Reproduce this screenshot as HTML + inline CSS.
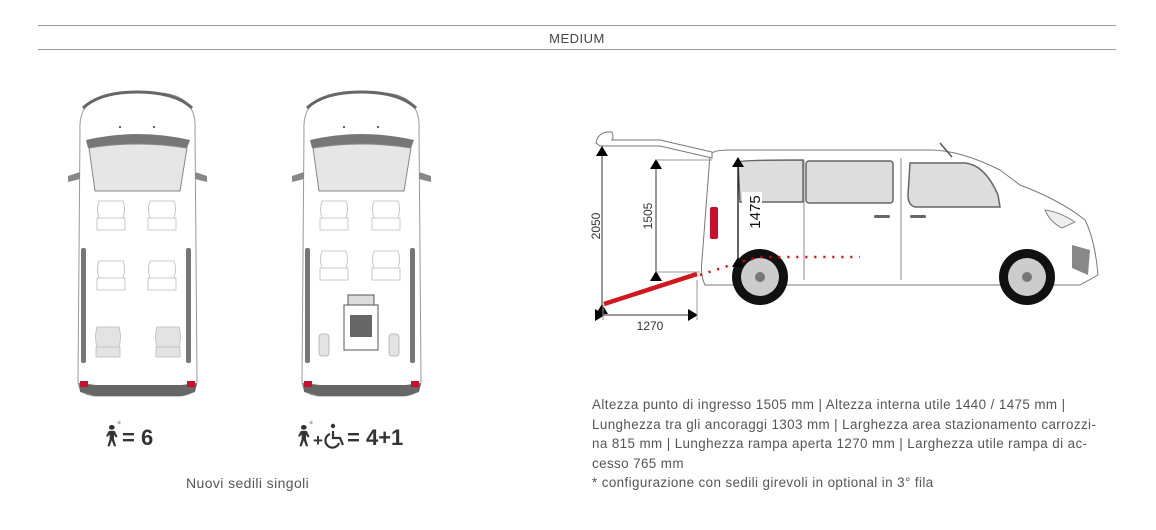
<!DOCTYPE html>
<html><head><meta charset="utf-8"><style>
html,body{margin:0;padding:0;background:#fff;}
body{width:1156px;height:530px;overflow:hidden;position:relative;font-family:"Liberation Sans",sans-serif;}
.t{position:absolute;color:#555;font-size:13.4px;line-height:19.5px;letter-spacing:0.4px;}
</style></head><body>
<svg width="1156" height="530" style="position:absolute;left:0;top:0" xmlns="http://www.w3.org/2000/svg">
<defs>
<marker id="ah" markerWidth="10" markerHeight="12" refX="9" refY="6" orient="auto" markerUnits="userSpaceOnUse"><path d="M0,0 L10,6 L0,12 z" fill="#000"/></marker>
<g id="van">
  <path d="M80,130 Q78,95 120,93 L160,93 Q197,95 195,130 L197,380 Q197,395 180,396 L95,396 Q78,395 78,380 Z" fill="#fff" stroke="#999" stroke-width="1"/>
  <path d="M83,108 Q100,92 137,92 Q175,92 192,108" fill="none" stroke="#666" stroke-width="3"/>
  <path d="M86,140 Q137,128 190,140 L187,148 Q137,140 88,148 Z" fill="#777"/>
  <path d="M89,148 Q137,140 187,148 L180,191 L95,191 Z" fill="#e6e6e6" stroke="#888"/>
  <path d="M80,172 L68,176 L68,182 L80,179 Z" fill="#888"/>
  <path d="M195,172 L207,176 L207,182 L195,179 Z" fill="#888"/>
  <rect x="81" y="248" width="5" height="115" rx="2" fill="#777"/>
  <rect x="186" y="248" width="5" height="115" rx="2" fill="#777"/>
  <path d="M79,383 L96,385 L182,385 L197,383 L195,392 L182,396 L95,396 L80,392 Z" fill="#666"/>
  <rect x="80" y="381" width="8" height="6" fill="#c8102e"/>
  <rect x="187" y="381" width="8" height="6" fill="#c8102e"/>
  <circle cx="120" cy="127" r="1" fill="#333"/><circle cx="154" cy="127" r="1" fill="#333"/>
</g>
<g id="seat"><path d="M0,0 h24 q3,8 0,17 h-24 q-3,-8 0,-17z M-2,17 h28 v12 h-28z" fill="#fff" stroke="#bbb" stroke-width="0.8"/></g>
<g id="seatg"><path d="M0,0 h22 q3,10 0,20 h-22 q-3,-10 0,-20z M-1,20 h24 v10 h-24z" fill="#e3e3e3" stroke="#bbb" stroke-width="0.8"/></g>
<g id="man" fill="#333">
  <circle cx="4" cy="2" r="2"/>
  <path d="M2,5 L6,5 L8,10 L6.5,10.5 L5.5,8 L5.5,12 L7,18 L5.5,18 L4,13 L2.5,18 L1,18 L2.5,12 L2.5,8 L1,10 L0,9.5 Z"/>
</g>
</defs>
<line x1="38" y1="25.5" x2="1116" y2="25.5" stroke="#999"/>
<line x1="38" y1="49.5" x2="1116" y2="49.5" stroke="#999"/>
<text x="577" y="43" text-anchor="middle" font-family="Liberation Sans" font-size="13" fill="#444" letter-spacing="0.5">MEDIUM</text>

<use href="#van"/>
<use href="#seat" x="99" y="201"/><use href="#seat" x="150" y="201"/>
<use href="#seat" x="99" y="261"/><use href="#seat" x="150" y="261"/>
<use href="#seatg" x="97" y="327"/><use href="#seatg" x="157" y="327"/>

<use href="#van" x="224"/>
<use href="#seat" x="322" y="201"/><use href="#seat" x="374" y="201"/>
<use href="#seat" x="322" y="251"/><use href="#seat" x="374" y="251"/>
<rect x="319" y="334" width="10" height="22" rx="3" fill="#e3e3e3" stroke="#bbb"/>
<rect x="389" y="334" width="10" height="22" rx="3" fill="#e3e3e3" stroke="#bbb"/>
<rect x="348" y="295" width="26" height="10" fill="#ddd" stroke="#555"/>
<rect x="344" y="305" width="34" height="45" fill="#fff" stroke="#555"/>
<rect x="350" y="315" width="22" height="22" fill="#666"/>

<!-- icons -->
<g transform="translate(106,425) scale(1.45,1.18)"><use href="#man"/></g>
<text x="117" y="428" font-size="11" fill="#999" font-family="Liberation Sans">*</text>
<text x="122" y="445" font-size="22" font-weight="bold" fill="#333" font-family="Liberation Sans">= 6</text>
<g transform="translate(298,425) scale(1.45,1.18)"><use href="#man"/></g>
<text x="309" y="428" font-size="11" fill="#999" font-family="Liberation Sans">*</text>
<text x="313" y="446" font-size="17" font-weight="bold" fill="#333" font-family="Liberation Sans">+</text>
<g fill="none" stroke="#333" stroke-width="2.2">
  <circle cx="333" cy="426" r="2.2" fill="#333" stroke="none"/>
  <path d="M333,431 L333,438 L340,438 L343,445"/>
  <path d="M330,434 A7,7 0 1 0 339,443"/>
</g>
<text x="347" y="445" font-size="22" font-weight="bold" fill="#333" font-family="Liberation Sans">= 4+1</text>

<!-- side van -->
<path d="M710,155 Q712,150 730,150 L930,150 Q960,150 1000,170 L1020,185 Q1060,200 1085,220 Q1095,240 1098,275 L1080,285 L705,285 Q700,275 702,260 Z" fill="#fff" stroke="#777" stroke-width="1"/>
<line x1="940" y1="143" x2="952" y2="157" stroke="#555" stroke-width="1.5"/>
<path d="M738,162 Q740,160 803,160 L803,202 L740,202 Z" fill="#ddd" stroke="#666" stroke-width="1.5"/>
<rect x="806" y="161" width="87" height="42" rx="3" fill="#ddd" stroke="#666" stroke-width="1.5"/>
<path d="M910,163 L965,163 Q985,165 998,195 L1000,207 L915,207 Q908,205 908,195 Z" fill="#ddd" stroke="#666" stroke-width="1.5"/>
<line x1="804" y1="160" x2="804" y2="280" stroke="#888"/>
<line x1="901" y1="158" x2="901" y2="280" stroke="#888"/>
<rect x="710" y="207" width="8" height="32" rx="2" fill="#c8102e"/>
<rect x="874" y="215" width="16" height="3" rx="1.5" fill="#666"/>
<rect x="910" y="215" width="16" height="3" rx="1.5" fill="#666"/>
<path d="M1072,245 L1090,250 L1088,275 L1072,268 Z" fill="#888"/>
<path d="M1045,210 Q1060,212 1075,222 L1062,228 Q1050,222 1045,210 Z" fill="#eee" stroke="#888"/>
<circle cx="760" cy="277" r="28" fill="#111"/><circle cx="760" cy="277" r="19" fill="#ccc"/><circle cx="760" cy="277" r="5" fill="#777"/>
<circle cx="1027" cy="277" r="28" fill="#111"/><circle cx="1027" cy="277" r="19" fill="#ccc"/><circle cx="1027" cy="277" r="5" fill="#777"/>
<path d="M596,143 Q598,131 612,132 Q614,138 612,140 L660,140 L712,152 L712,158 L660,146 L600,146 Z" fill="#fff" stroke="#777"/>
<path d="M700,275 L740,262 L760,257 L860,257" fill="none" stroke="#e00" stroke-width="2.5" stroke-dasharray="2,7"/>
<line x1="604" y1="304" x2="697" y2="274" stroke="#d0161e" stroke-width="4.5"/>
<line x1="602" y1="305" x2="602" y2="147" stroke="#333" marker-end="url(#ah)" marker-start="url(#ah)"/>
<line x1="656" y1="272" x2="656" y2="160" stroke="#333" marker-end="url(#ah)" marker-start="url(#ah)"/>
<line x1="656" y1="160" x2="712" y2="160" stroke="#999"/>
<line x1="656" y1="272" x2="700" y2="272" stroke="#999"/>
<line x1="738" y1="258" x2="738" y2="158" stroke="#111" stroke-width="1.3" marker-end="url(#ah)" marker-start="url(#ah)"/>
<line x1="604" y1="315" x2="697" y2="315" stroke="#333" marker-end="url(#ah)" marker-start="url(#ah)"/>
<line x1="697" y1="280" x2="697" y2="320" stroke="#999"/>
<line x1="603" y1="305" x2="603" y2="320" stroke="#999"/>
<rect x="742" y="192" width="20" height="40" fill="#fff"/>
<text transform="translate(600,226) rotate(-90)" text-anchor="middle" font-family="Liberation Sans" font-size="12" fill="#333">2050</text>
<text transform="translate(652,216) rotate(-90)" text-anchor="middle" font-family="Liberation Sans" font-size="12" fill="#333">1505</text>
<text transform="translate(760,212) rotate(-90)" text-anchor="middle" font-family="Liberation Sans" font-size="15" fill="#111">1475</text>
<text x="650" y="330" text-anchor="middle" font-family="Liberation Sans" font-size="12" fill="#333">1270</text>
</svg>
<div class="t" style="left:186px;top:474px;font-size:14px;">Nuovi sedili singoli</div>
<div class="t" style="left:592px;top:395px;width:520px;">Altezza punto di ingresso 1505 mm | Altezza interna utile 1440 / 1475 mm |<br>Lunghezza tra gli ancoraggi 1303 mm | Larghezza area stazionamento carrozzi-<br>na 815 mm | Lunghezza rampa aperta 1270 mm | Larghezza utile rampa di ac-<br>cesso 765 mm<br>* configurazione con sedili girevoli in optional in 3° fila</div>
</body></html>
